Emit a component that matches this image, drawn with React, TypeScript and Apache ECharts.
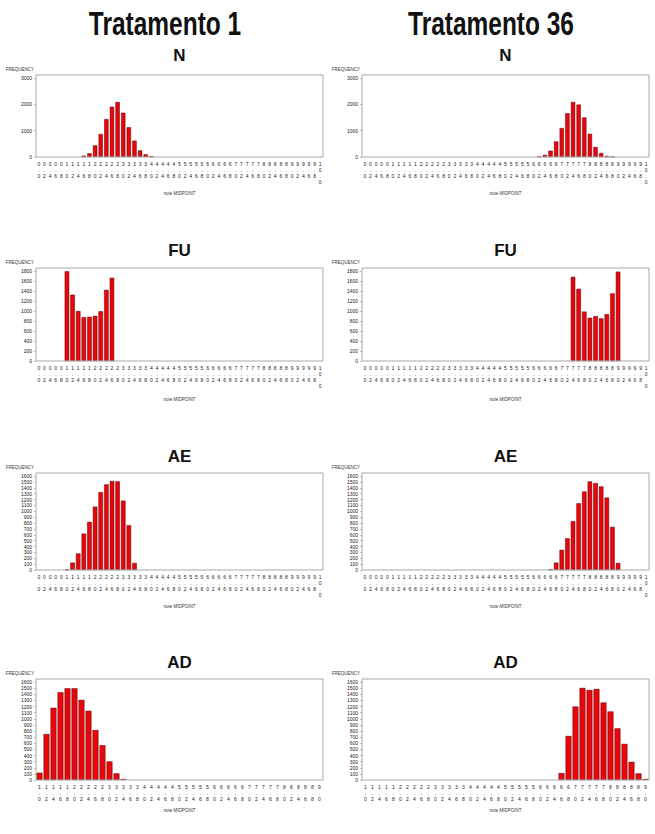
import React, { useEffect, useRef } from 'react';
import * as echarts from 'echarts';

// Midpoint categories (tick labels) for N, FU, AE panels
const midpointsA = [
  '0.0', '0.2', '0.4', '0.6', '0.8', '1.0', '1.2', '1.4', '1.6', '1.8',
  '2.0', '2.2', '2.4', '2.6', '2.8', '3.0', '3.2', '3.4', '3.6', '3.8',
  '4.0', '4.2', '4.4', '4.6', '4.8', '5.0', '5.2', '5.4', '5.6', '5.8',
  '6.0', '6.2', '6.4', '6.6', '6.8', '7.0', '7.2', '7.4', '7.6', '7.8',
  '8.0', '8.2', '8.4', '8.6', '8.8', '9.0', '9.2', '9.4', '9.6', '9.8',
  '10.0',
];
// Midpoint categories for AD panels
const midpointsB = [
  '1.0', '1.2', '1.4', '1.6', '1.8', '2.0', '2.2', '2.4', '2.6', '2.8',
  '3.0', '3.2', '3.4', '3.6', '3.8', '4.0', '4.2', '4.4', '4.6', '4.8',
  '5.0', '5.2', '5.4', '5.6', '5.8', '6.0', '6.2', '6.4', '6.6', '6.8',
  '7.0', '7.2', '7.4', '7.6', '7.8', '8.0', '8.2', '8.4', '8.6', '8.8',
  '9.0',
];

// Frequency tick labels
const ticksN = [0, 1000, 2000, 3000];
const ticksFU = [0, 200, 400, 600, 800, 1000, 1200, 1400, 1600, 1800];
const ticksAE = [0, 100, 200, 300, 400, 500, 600, 700, 800, 900, 1000, 1100, 1200, 1300, 1400, 1500, 1600];
const ticksAD = [0, 100, 200, 300, 400, 500, 600, 700, 800, 900, 1000, 1100, 1200, 1300, 1400, 1500, 1600];

// Tratamento 1
const n1: [string, number][] = [
  ['1.6', 50], ['1.8', 140], ['2.0', 440], ['2.2', 870], ['2.4', 1440], ['2.6', 1910],
  ['2.8', 2090], ['3.0', 1680], ['3.2', 1130], ['3.4', 620], ['3.6', 250], ['3.8', 100], ['4.0', 25],
];
const fu1: [string, number][] = [
  ['1.0', 1794], ['1.2', 1326], ['1.4', 1000], ['1.6', 877], ['1.8', 884],
  ['2.0', 903], ['2.2', 994], ['2.4', 1423], ['2.6', 1663],
];
const ae1: [string, number][] = [
  ['1.0', 10], ['1.2', 126], ['1.4', 281], ['1.6', 619], ['1.8', 820], ['2.0', 1078],
  ['2.2', 1325], ['2.4', 1457], ['2.6', 1514], ['2.8', 1508], ['3.0', 1181], ['3.2', 763], ['3.4', 120],
];
const ad1: [string, number][] = [
  ['1.0', 119], ['1.2', 751], ['1.4', 1178], ['1.6', 1432], ['1.8', 1497], ['2.0', 1497],
  ['2.2', 1308], ['2.4', 1130], ['2.6', 816], ['2.8', 568], ['3.0', 303], ['3.2', 108], ['3.4', 16],
];

// Tratamento 36
const n36: [string, number][] = [
  ['6.2', 15], ['6.4', 80], ['6.6', 240], ['6.8', 590], ['7.0', 1100], ['7.2', 1660], ['7.4', 2090],
  ['7.6', 1990], ['7.8', 1500], ['8.0', 880], ['8.2', 380], ['8.4', 150], ['8.6', 40], ['8.8', 10],
];
const fu36: [string, number][] = [
  ['7.4', 1683], ['7.6', 1443], ['7.8', 988], ['8.0', 864], ['8.2', 897],
  ['8.4', 851], ['8.6', 936], ['8.8', 1352], ['9.0', 1787],
];
const ae36: [string, number][] = [
  ['6.6', 10], ['6.8', 126], ['7.0', 344], ['7.2', 539], ['7.4', 832], ['7.6', 1136],
  ['7.8', 1336], ['8.0', 1508], ['8.2', 1480], ['8.4', 1422], ['8.6', 1233], ['8.8', 734], ['9.0', 120],
];
const ad36: [string, number][] = [
  ['6.6', 114], ['6.8', 719], ['7.0', 1200], ['7.2', 1503], ['7.4', 1470], ['7.6', 1486],
  ['7.8', 1265], ['8.0', 1119], ['8.2', 843], ['8.4', 589], ['8.6', 297], ['8.8', 108], ['9.0', 16],
];

const headers = ['Tratamento 1', 'Tratamento 36'];
const panelTitles = ['N', 'FU', 'AE', 'AD'];

export default function App() {
  const ref = useRef<HTMLDivElement>(null);

  useEffect(() => {
    if (!ref.current) return;
    const chart = echarts.init(ref.current, undefined, { renderer: 'svg' });

    const rows = [
      { title: 55, frame: 75, top: 78, h: 79, nameGap: 36, cats: midpointsA, ticks: ticksN, gap: '24%' },
      { title: 250, frame: 268, top: 271, h: 90, nameGap: 38, cats: midpointsA, ticks: ticksFU, gap: '20%' },
      { title: 456, frame: 473, top: 476, h: 94, nameGap: 36, cats: midpointsA, ticks: ticksAE, gap: '20%' },
      { title: 662, frame: 679, top: 682, h: 98, nameGap: 30, cats: midpointsB, ticks: ticksAD, gap: '16%' },
    ];
    const cols = [
      { left: 36, header: 165 },
      { left: 362, header: 491 },
    ];
    const W = 287;
    const dataSets = [
      [n1, fu1, ae1, ad1],
      [n36, fu36, ae36, ad36],
    ];

    const grid: any[] = [];
    const xAxis: any[] = [];
    const yAxis: any[] = [];
    const series: any[] = [];
    const graphic: any[] = [];
    const font = 'Liberation Sans, Arial, sans-serif';

    cols.forEach((c, ci) => {
      graphic.push({
        type: 'text',
        x: c.header,
        y: 23,
        scaleX: 0.72,
        style: {
          text: headers[ci],
          font: 'bold 34px "Liberation Sans", Arial, sans-serif',
          fill: '#111',
          textAlign: 'center',
          textVerticalAlign: 'middle',
        },
      });
      rows.forEach((r, ri) => {
        const idx = grid.length;
        grid.push({ left: c.left, top: r.top, width: W, height: r.h, show: false });
        graphic.push({
          type: 'rect',
          shape: { x: c.left, y: r.frame, width: W, height: r.top + r.h - r.frame },
          style: { fill: 'none', stroke: '#a8a8a8', lineWidth: 1 },
          z: 100,
        });
        graphic.push({
          type: 'text',
          x: c.left + W / 2,
          y: r.title,
          style: {
            text: panelTitles[ri],
            font: 'bold 17px "Liberation Sans", Arial, sans-serif',
            fill: '#111',
            textAlign: 'center',
            textVerticalAlign: 'middle',
          },
        });
        xAxis.push({
          type: 'category',
          gridIndex: idx,
          data: r.cats,
          boundaryGap: true,
          axisLine: { show: false },
          axisTick: { show: false },
          axisLabel: {
            interval: 0,
            fontSize: 5,
            lineHeight: 6,
            color: '#222',
            fontFamily: font,
            margin: 4,
            formatter: (v: string) => v.split('').join('\n'),
          },
          name: 'note MIDPOINT',
          nameLocation: 'middle',
          nameGap: r.nameGap,
          nameTextStyle: { fontSize: 4.5, color: '#333', fontFamily: font, verticalAlign: 'middle' },
        });
        yAxis.push({
          type: 'value',
          gridIndex: idx,
          min: r.ticks[0],
          max: r.ticks[r.ticks.length - 1],
          interval: r.ticks[1] - r.ticks[0],
          splitLine: { show: false },
          axisLine: { show: false },
          axisTick: { show: true, length: 2, lineStyle: { color: '#777', width: 0.5 } },
          axisLabel: {
            fontSize: 5,
            color: '#222',
            fontFamily: font,
            margin: 4,
            formatter: (v: number) => String(v),
          },
          name: 'FREQUENCY',
          nameLocation: 'end',
          nameGap: 6,
          nameTextStyle: { fontSize: 4.5, color: '#333', fontFamily: font, align: 'right', padding: [0, 2, 0, 0] },
        });
        series.push({
          type: 'bar',
          xAxisIndex: idx,
          yAxisIndex: idx,
          data: dataSets[ci][ri],
          barCategoryGap: r.gap,
          itemStyle: { color: '#e8060c', borderColor: '#5a0000', borderWidth: 0.5 },
        });
      });
    });

    chart.setOption({
      animation: false,
      backgroundColor: '#ffffff',
      grid,
      xAxis,
      yAxis,
      series,
      graphic,
    });

    return () => chart.dispose();
  }, []);

  return (
    <div
      ref={ref}
      style={{ position: 'absolute', left: 0, top: 0, width: 655, height: 834 }}
    />
  );
}
